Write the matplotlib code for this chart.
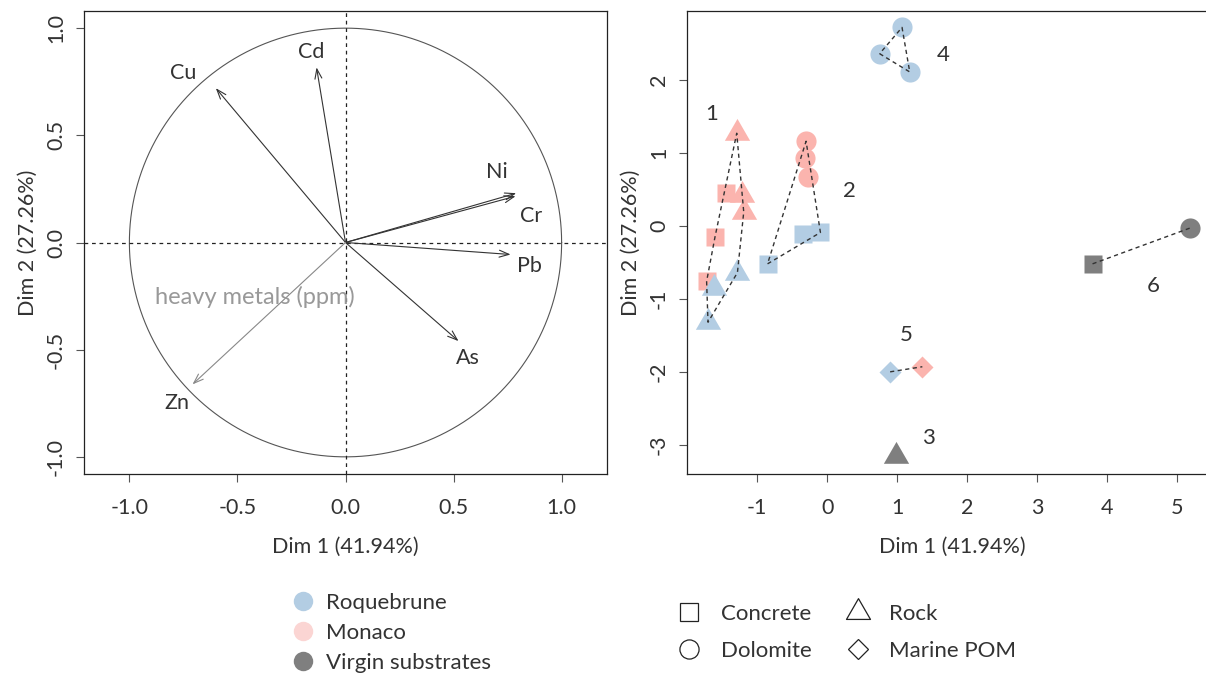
import numpy as np
import matplotlib
matplotlib.use("Agg")
import matplotlib.pyplot as plt
from matplotlib.path import Path
from matplotlib.lines import Line2D

plt.rcParams['font.family'] = ['Lato', 'DejaVu Sans']
plt.rcParams['axes.unicode_minus'] = False

# variables (correlation circle)
var_names = ['Cu', 'Cd', 'Ni', 'Cr', 'Pb', 'As', 'Zn']
var_x = [-0.60, -0.134, 0.79, 0.787, 0.764, 0.523, -0.708]
var_y = [0.72, 0.817, 0.23, 0.216, -0.056, -0.46, -0.662]
var_lab_x = [-0.75, -0.16, 0.70, 0.86, 0.85, 0.565, -0.78]
var_lab_y = [0.79, 0.89, 0.33, 0.125, -0.11, -0.54, -0.75]

# individuals: site, substrate, group, dim1, dim2
sites = ['Monaco'] * 3 + ['Monaco'] * 3 + ['Roquebrune'] * 3 + \
        ['Monaco'] * 3 + ['Roquebrune'] * 3 + ['Roquebrune'] * 3 + \
        ['Roquebrune', 'Monaco'] + ['Virgin'] + ['Virgin', 'Virgin']
substrates = ['Rock'] * 3 + ['Concrete'] * 3 + ['Rock'] * 3 + \
             ['Dolomite'] * 3 + ['Concrete'] * 3 + ['Dolomite'] * 3 + \
             ['Marine POM'] * 2 + ['Rock'] + ['Concrete', 'Dolomite']
groups = [1] * 9 + [2] * 6 + [4] * 3 + [5] * 2 + [3] + [6] * 2
dim1 = [-1.29, -1.22, -1.19, -1.44, -1.60, -1.72, -1.62, -1.28, -1.70,
        -0.30, -0.32, -0.27, -0.35, -0.095, -0.85,
        1.07, 0.75, 1.18,
        0.90, 1.36,
        0.99,
        3.79, 5.18]
dim2 = [1.27, 0.43, 0.19, 0.45, -0.15, -0.76, -0.85, -0.64, -1.32,
        1.16, 0.93, 0.675, -0.11, -0.09, -0.52,
        2.72, 2.36, 2.11,
        -2.0, -1.93,
        -3.16,
        -0.52, -0.03]
group_lab_x = {1: -1.65, 2: 0.32, 3: 1.45, 4: 1.66, 5: 1.13, 6: 4.65}
group_lab_y = {1: 1.53, 2: 0.48, 3: -2.91, 4: 2.34, 5: -1.49, 6: -0.83}

site_col = {'Roquebrune': '#b3cde3', 'Monaco': '#fbb4ae', 'Virgin': '#7f7f7f'}
legend_sites = ['Roquebrune', 'Monaco', 'Virgin substrates']
legend_site_cols = ['#b3cde3', '#fbd5d3', '#7f7f7f']

# R style triangle, centred on its centroid
tri = Path([(0, 1.555), (-1.347, -0.778), (1.347, -0.778), (0, 1.555)],
           [Path.MOVETO, Path.LINETO, Path.LINETO, Path.CLOSEPOLY])
sub_marker = {'Concrete': 's', 'Dolomite': 'o', 'Rock': tri, 'Marine POM': 'D'}
sub_size = {'Concrete': 13, 'Dolomite': 14.5, 'Rock': 21, 'Marine POM': 11}

txt = '#333333'
fs = 15.5


def hull(pts):
    pts = sorted(set(pts))
    if len(pts) < 3:
        return pts
    def cross(o, a, b):
        return (a[0] - o[0]) * (b[1] - o[1]) - (a[1] - o[1]) * (b[0] - o[0])
    lower, upper = [], []
    for p in pts:
        while len(lower) >= 2 and cross(lower[-2], lower[-1], p) <= 0:
            lower.pop()
        lower.append(p)
    for p in reversed(pts):
        while len(upper) >= 2 and cross(upper[-2], upper[-1], p) <= 0:
            upper.pop()
        upper.append(p)
    return lower[:-1] + upper[:-1] + [lower[0]]


W, H = 1206, 677
fig = plt.figure(figsize=(W / 100, H / 100), dpi=100)

def style(ax):
    for s in ax.spines.values():
        s.set_linewidth(0.9)
        s.set_color('#222222')
    ax.tick_params(length=6, width=0.8, color='#555555', labelcolor=txt,
                   labelsize=fs)
    ax.tick_params(axis='x', pad=11)
    ax.tick_params(axis='y', pad=7)
    for lab in ax.get_yticklabels():
        lab.set_rotation(90)
        lab.set_va('center')

# ---- left: correlation circle
ax1 = fig.add_axes([84 / W, 1 - 474 / H, (607 - 84) / W, (474 - 11) / H])
ax1.set_xlim(-1.21, 1.21)
ax1.set_ylim(-1.08, 1.08)
t = np.linspace(0, 2 * np.pi, 400)
ax1.plot(np.cos(t), np.sin(t), color='#555555', lw=0.8)
ax1.axhline(0, color='#222222', lw=0.9, ls=(0, (3, 3)))
ax1.axvline(0, color='#222222', lw=0.9, ls=(0, (3, 3)))
for i, name in enumerate(var_names):
    c = '#888888' if name == 'Zn' else '#333333'
    ax1.annotate('', xy=(var_x[i], var_y[i]), xytext=(0, 0),
                 arrowprops=dict(arrowstyle='->,head_length=0.7,head_width=0.25',
                                 color=c, lw=0.8, shrinkA=0, shrinkB=0))
    ax1.text(var_lab_x[i], var_lab_y[i], name, color=txt, fontsize=fs,
             ha='center', va='center')
ax1.text(-0.42, -0.255, 'heavy metals (ppm)', color='#999999', fontsize=17,
         ha='center', va='center')
ax1.set_xticks([-1.0, -0.5, 0.0, 0.5, 1.0])
ax1.set_yticks([-1.0, -0.5, 0.0, 0.5, 1.0])
ax1.set_xticklabels(['-1.0', '-0.5', '0.0', '0.5', '1.0'])
ax1.set_yticklabels(['-1.0', '-0.5', '0.0', '0.5', '1.0'])
style(ax1)
ax1.set_xlabel('Dim 1 (41.94%)', fontsize=fs, color=txt, labelpad=14)
ax1.set_ylabel('Dim 2 (27.26%)', fontsize=fs, color=txt, labelpad=6)

# ---- right: individuals
ax2 = fig.add_axes([687 / W, 1 - 474 / H, 1 - 687 / W + 0.01, (474 - 11) / H])
ax2.set_xlim(-2.0, 5.41 + 0.01 * W / 70.1)
ax2.set_ylim(-3.40, 2.945)
ax2.spines['right'].set_visible(False)

for g in sorted(set(groups)):
    pts = [(dim1[i], dim2[i]) for i in range(len(groups)) if groups[i] == g]
    h = hull(pts)
    if len(h) > 1:
        hx, hy = zip(*h)
        ax2.plot(hx, hy, color='#333333', lw=1.0, ls=(0, (3, 2.5)), zorder=3)
    ax2.text(group_lab_x[g], group_lab_y[g], str(g), color=txt, fontsize=16,
             ha='center', va='center')

for i in range(len(dim1)):
    ax2.plot(dim1[i], dim2[i], marker=sub_marker[substrates[i]],
             ms=sub_size[substrates[i]], color=site_col[sites[i]],
             mec='none', ls='none', zorder=2)

ax2.set_xticks([-1, 0, 1, 2, 3, 4, 5])
ax2.set_yticks([-3, -2, -1, 0, 1, 2])
style(ax2)
ax2.set_xlabel('Dim 1 (41.94%)', fontsize=fs, color=txt, labelpad=14)
ax2.set_ylabel('Dim 2 (27.26%)', fontsize=fs, color=txt, labelpad=6)

# ---- legends
h1 = [Line2D([], [], marker='o', ls='none', ms=14, color=c, mec='none')
      for c in legend_site_cols]
fig.legend(h1, legend_sites, loc='upper left', bbox_to_anchor=(280 / W, 1 - 582 / H),
           frameon=False, fontsize=16, labelcolor=txt, handletextpad=0.45,
           labelspacing=0.45, borderpad=0, handlelength=1.1)

sub_order = ['Concrete', 'Dolomite', 'Rock', 'Marine POM']
h2 = [Line2D([], [], marker=sub_marker[s], ls='none', ms=sub_size[s] * 0.95,
             mfc='none', mec='#222222', mew=0.9) for s in sub_order]
fig.legend(h2, sub_order, loc='upper left', ncol=2,
           bbox_to_anchor=(665 / W, 1 - 593 / H), frameon=False, fontsize=16,
           labelcolor=txt, handletextpad=0.8, labelspacing=0.75,
           columnspacing=1.5, borderpad=0, handlelength=1.2)

fig.savefig('out.png', dpi=100)
